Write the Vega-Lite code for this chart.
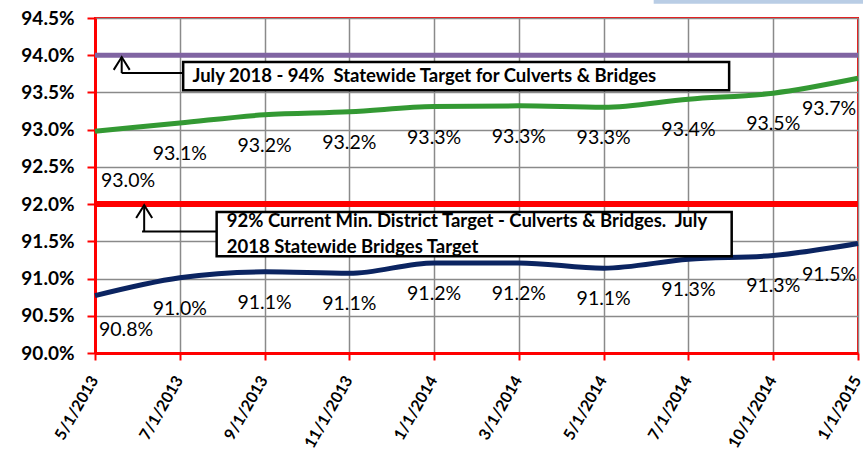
{
  "$schema": "https://vega.github.io/schema/vega-lite/v6.json",
  "width": 763,
  "height": 335,
  "autosize": "none",
  "padding": {"left": 95, "top": 18, "right": 5, "bottom": 98},
  "background": "white",
  "config": {
    "view": {"stroke": "#FF0000", "strokeWidth": 2},
    "font": "Lato"
  },
  "datasets": {
    "series": [
      {"x": 0, "date": "5/1/2013", "series": "Culverts & Bridges", "y": 92.98},
      {"x": 1, "date": "7/1/2013", "series": "Culverts & Bridges", "y": 93.09},
      {"x": 2, "date": "9/1/2013", "series": "Culverts & Bridges", "y": 93.2},
      {"x": 3, "date": "11/1/2013", "series": "Culverts & Bridges", "y": 93.24},
      {"x": 4, "date": "1/1/2014", "series": "Culverts & Bridges", "y": 93.31},
      {"x": 5, "date": "3/1/2014", "series": "Culverts & Bridges", "y": 93.32},
      {"x": 6, "date": "5/1/2014", "series": "Culverts & Bridges", "y": 93.3},
      {"x": 7, "date": "7/1/2014", "series": "Culverts & Bridges", "y": 93.41},
      {"x": 8, "date": "10/1/2014", "series": "Culverts & Bridges", "y": 93.49},
      {"x": 9, "date": "1/1/2015", "series": "Culverts & Bridges", "y": 93.69},
      {"x": 0, "date": "5/1/2013", "series": "Bridges", "y": 90.77},
      {"x": 1, "date": "7/1/2013", "series": "Bridges", "y": 91.01},
      {"x": 2, "date": "9/1/2013", "series": "Bridges", "y": 91.09},
      {"x": 3, "date": "11/1/2013", "series": "Bridges", "y": 91.07},
      {"x": 4, "date": "1/1/2014", "series": "Bridges", "y": 91.21},
      {"x": 5, "date": "3/1/2014", "series": "Bridges", "y": 91.21},
      {"x": 6, "date": "5/1/2014", "series": "Bridges", "y": 91.14},
      {"x": 7, "date": "7/1/2014", "series": "Bridges", "y": 91.26},
      {"x": 8, "date": "10/1/2014", "series": "Bridges", "y": 91.31},
      {"x": 9, "date": "1/1/2015", "series": "Bridges", "y": 91.47}
    ],
    "targets": [
      {"name": "Statewide", "y": 94.0, "x": 0, "x2": 9},
      {"name": "District", "y": 92.0, "x": 0, "x2": 9}
    ],
    "boxes": [
      {"x": 1.04, "x2": 7.48, "y": 93.91, "y2": 93.53},
      {"x": 1.435, "x2": 7.51, "y": 91.893, "y2": 91.3}
    ],
    "notes": [
      {"x": 1.15, "y": 93.72, "text": "July 2018 - 94%\u00a0 Statewide Target for Culverts & Bridges"},
      {"x": 1.555, "y": 91.77, "text": "92% Current Min. District Target - Culverts & Bridges.\u00a0 July"},
      {"x": 1.555, "y": 91.43, "text": "2018 Statewide Bridges Target"}
    ],
    "arrows": [
      {"x": 0.315, "x2": 0.315, "y": 93.76, "y2": 93.975},
      {"x": 0.315, "x2": 1.04, "y": 93.76, "y2": 93.76},
      {"x": 0.58, "x2": 0.58, "y": 91.632, "y2": 91.985},
      {"x": 0.555, "x2": 1.435, "y": 91.632, "y2": 91.632}
    ],
    "heads": [
      {"x": 0.315, "y": 93.975},
      {"x": 0.58, "y": 91.985}
    ],
    "decor": [
      {"x": 6.59, "x2": 9.1, "y": 94.746, "y2": 94.69}
    ]
  },
  "encoding": {
    "x": {
      "field": "x", "type": "quantitative", "title": null,
      "scale": {"domain": [0, 9], "nice": false, "zero": false},
      "axis": {
        "values": [0, 1, 2, 3, 4, 5, 6, 7, 8, 9],
        "labelExpr": "['5/1/2013','7/1/2013','9/1/2013','11/1/2013','1/1/2014','3/1/2014','5/1/2014','7/1/2014','10/1/2014','1/1/2015'][datum.value]",
        "labelAngle": -60,
        "labelAlign": "right",
        "labelBaseline": "middle",
        "labelFont": "Lato",
        "labelFontWeight": "bold",
        "labelFontSize": 16,
        "labelColor": "black",
        "labelPadding": 17,
        "labelOffset": -1,
        "labelFlush": false,
        "labelOverlap": false,
        "labelBound": false,
        "grid": true,
        "gridColor": "#8a8a8a",
        "gridWidth": 1.5,
        "gridOpacity": 1,
        "domainColor": "#FF0000",
        "domainWidth": 3,
        "tickColor": "#FF0000",
        "tickWidth": 2,
        "tickSize": 7
      }
    },
    "y": {
      "field": "y", "type": "quantitative", "title": null,
      "scale": {"domain": [90, 94.5], "nice": false, "zero": false},
      "axis": {
        "values": [90, 90.5, 91, 91.5, 92, 92.5, 93, 93.5, 94, 94.5],
        "labelExpr": "format(datum.value, '.1f') + '%'",
        "labelFont": "Lato",
        "labelFontWeight": "bold",
        "labelFontSize": 19,
        "labelColor": "black",
        "labelPadding": 13,
        "labelFlush": false,
        "labelOverlap": false,
        "labelBound": false,
        "grid": true,
        "gridColor": "#8a8a8a",
        "gridWidth": 1.5,
        "gridOpacity": 1,
        "domainColor": "#FF0000",
        "domainWidth": 3,
        "tickColor": "#FF0000",
        "tickWidth": 2,
        "tickSize": 8
      }
    }
  },
  "layer": [
    {
      "data": {"name": "series"},
      "mark": {"type": "line", "interpolate": "monotone", "strokeWidth": 5},
      "encoding": {
        "color": {
          "field": "series", "type": "nominal", "legend": null,
          "scale": {"domain": ["Culverts & Bridges", "Bridges"], "range": ["#339933", "#0B2461"]}
        }
      }
    },
    {
      "data": {"name": "targets"},
      "transform": [{"filter": "datum.name == 'Statewide'"}],
      "mark": {"type": "rule", "strokeWidth": 5, "color": "#8064A2"},
      "encoding": {"x2": {"field": "x2"}}
    },
    {
      "data": {"name": "targets"},
      "transform": [{"filter": "datum.name == 'District'"}],
      "mark": {"type": "rule", "strokeWidth": 6, "color": "#FF0000"},
      "encoding": {"x2": {"field": "x2"}}
    },
    {
      "data": {"name": "series"},
      "transform": [{"filter": "datum.x > 0 && datum.x < 9"}, {"calculate": "format(datum.y, '.1f') + '%'", "as": "lbl"}],
      "mark": {"type": "text", "dy": 31, "fontSize": 19.5, "font": "Lato", "color": "black"},
      "encoding": {"text": {"field": "lbl", "type": "nominal"}}
    },
    {
      "data": {"name": "series"},
      "transform": [{"filter": "datum.x == 0 && datum.series == 'Culverts & Bridges'"}, {"calculate": "format(datum.y, '.1f') + '%'", "as": "lbl"}],
      "mark": {"type": "text", "dx": 33, "dy": 50, "fontSize": 19.5, "font": "Lato", "color": "black"},
      "encoding": {"text": {"field": "lbl", "type": "nominal"}}
    },
    {
      "data": {"name": "series"},
      "transform": [{"filter": "datum.x == 0 && datum.series == 'Bridges'"}, {"calculate": "format(datum.y, '.1f') + '%'", "as": "lbl"}],
      "mark": {"type": "text", "dx": 31, "dy": 34, "fontSize": 19.5, "font": "Lato", "color": "black"},
      "encoding": {"text": {"field": "lbl", "type": "nominal"}}
    },
    {
      "data": {"name": "series"},
      "transform": [{"filter": "datum.x == 9"}, {"calculate": "format(datum.y, '.1f') + '%'", "as": "lbl"}],
      "mark": {"type": "text", "dx": -29, "dy": 31, "fontSize": 19.5, "font": "Lato", "color": "black"},
      "encoding": {"text": {"field": "lbl", "type": "nominal"}}
    },
    {
      "data": {"name": "arrows"},
      "mark": {"type": "rule", "color": "black", "strokeWidth": 2},
      "encoding": {"x2": {"field": "x2"}, "y2": {"field": "y2"}}
    },
    {
      "data": {"name": "heads"},
      "mark": {"type": "point", "shape": "M-1,1.6L0,0L1,1.6", "filled": false, "size": 256, "color": "black", "strokeWidth": 2, "opacity": 1}
    },
    {
      "data": {"name": "boxes"},
      "mark": {"type": "rect", "fill": "white", "stroke": "black", "strokeWidth": 2.5},
      "encoding": {"x2": {"field": "x2"}, "y2": {"field": "y2"}}
    },
    {
      "data": {"name": "notes"},
      "mark": {"type": "text", "align": "left", "baseline": "middle", "fontSize": 18.5, "fontWeight": "bold", "font": "Lato", "color": "black"},
      "encoding": {"text": {"field": "text", "type": "nominal"}}
    },
    {
      "data": {"name": "decor"},
      "mark": {"type": "rect", "fill": "#B9CDE5", "clip": false},
      "encoding": {"x2": {"field": "x2"}, "y2": {"field": "y2"}}
    }
  ]
}
